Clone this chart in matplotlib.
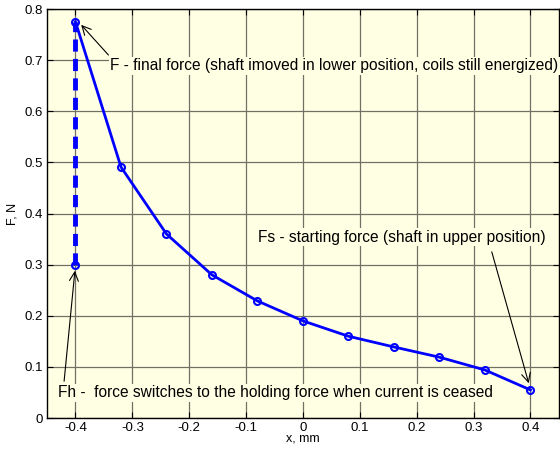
import numpy as np
import matplotlib
matplotlib.use('Agg')
from matplotlib import pyplot as plt

plt.rcParams['font.family'] = ['Liberation Sans', 'DejaVu Sans']

# force curve, shaft displacement vs force
x_mm = [-0.4, -0.32, -0.24, -0.16, -0.08, 0.0, 0.08, 0.16, 0.24, 0.32, 0.4]
force_n = [0.775, 0.491, 0.36, 0.28, 0.229, 0.19, 0.16, 0.139, 0.119, 0.094, 0.055]

# switching from final to holding force
switch_x = [-0.4, -0.4]
switch_f = [0.30, 0.775]

x_ticks = [-0.4, -0.3, -0.2, -0.1, 0, 0.1, 0.2, 0.3, 0.4]
x_ticklabels = ['-0.4', '-0.3', '-0.2', '-0.1', '0', '0.1', '0.2', '0.3', '0.4']
y_ticks = [0, 0.1, 0.2, 0.3, 0.4, 0.5, 0.6, 0.7, 0.8]
y_ticklabels = ['0', '0.1', '0.2', '0.3', '0.4', '0.5', '0.6', '0.7', '0.8']

fig = plt.figure(figsize=(5.6, 4.5), dpi=100)
ax = fig.add_axes([0.084, 0.071, 0.914, 0.909])
ax.set_facecolor('#FFFFE4')

ax.plot(switch_x, switch_f, color='blue', lw=3.5, ls=(0, (2.5, 1.5)), zorder=3)
ax.plot(switch_x[:1], switch_f[:1], 'o', mfc='none', mec='blue', ms=5, mew=1.5, zorder=4)
ax.plot(x_mm, force_n, '-o', color='blue', lw=2, mfc='none', mec='blue', ms=5, mew=1.5, zorder=4)

ax.set_xlim(-0.45, 0.45)
ax.set_ylim(0, 0.8)
ax.set_xticks(x_ticks)
ax.set_xticklabels(x_ticklabels)
ax.set_yticks(y_ticks)
ax.set_yticklabels(y_ticklabels)
ax.tick_params(direction='in', top=True, right=True, labelsize=9.5, length=4, width=0.8, pad=3)
ax.grid(True, color='#707064', lw=0.9, ls='-')
ax.set_axisbelow(True)
for s in ax.spines.values():
    s.set_linewidth(1)

ax.set_xlabel('x, mm', fontsize=9, labelpad=-1)
ax.set_ylabel('F, N', fontsize=9, labelpad=4)

txt = dict(fontsize=11.2, va='center', ha='left',
           bbox=dict(boxstyle='square,pad=0.1', fc='#FFFFE4', ec='none'))
arr = dict(arrowstyle='->', color='black', lw=0.8, shrinkA=0, shrinkB=0, mutation_scale=16)

ax.annotate('', xy=(-0.39, 0.769), xytext=(-0.342, 0.71), arrowprops=arr, zorder=5)
ax.text(-0.339, 0.689, 'F - final force (shaft imoved in lower position, coils still energized)',
        zorder=5, clip_on=False, **txt)

ax.annotate('', xy=(0.397, 0.068), xytext=(0.332, 0.325), arrowprops=arr, zorder=5)
ax.text(-0.079, 0.354, 'Fs - starting force (shaft in upper position)', zorder=5, **txt)

ax.annotate('', xy=(-0.401, 0.288), xytext=(-0.42, 0.072), arrowprops=arr, zorder=5)
ax.text(-0.431, 0.049, 'Fh -  force switches to the holding force when current is ceased',
        zorder=5, **txt)

plt.savefig('out.png', dpi=100)
